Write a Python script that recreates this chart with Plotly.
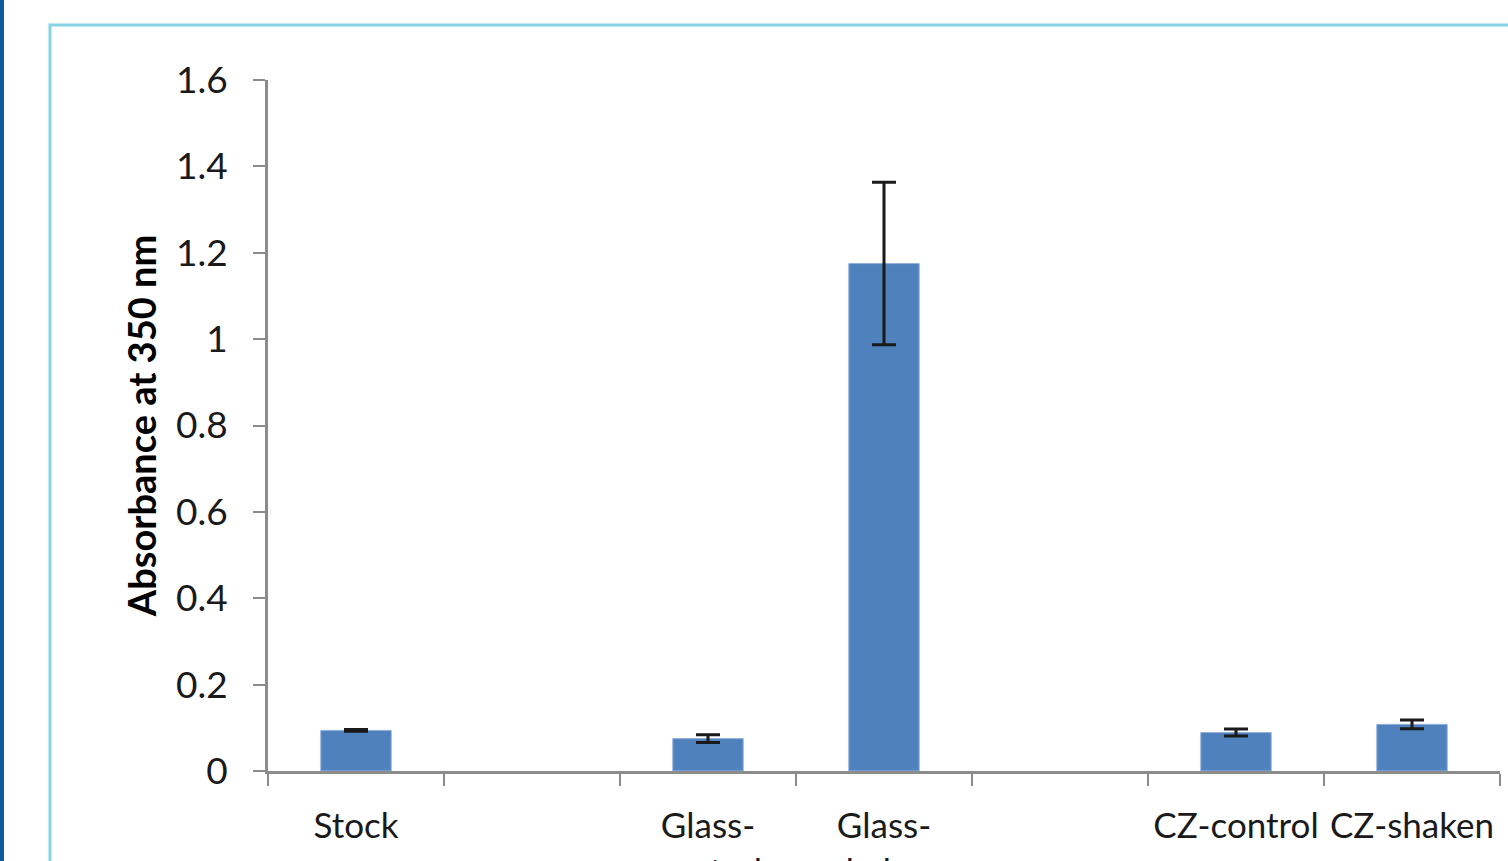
import plotly.graph_objects as go

# Absorbance at 350 nm for each sample (blank categories keep the gaps between groups)
categories = ["Stock", " ", "Glass-<br>control", "Glass-<br>shaken", "  ", "CZ-control", "CZ-shaken"]
absorbance = [0.094, None, 0.075, 1.175, None, 0.089, 0.108]
errors = [0.002, None, 0.009, 0.188, None, 0.008, 0.010]

y_ticks = [0, 0.2, 0.4, 0.6, 0.8, 1.0, 1.2, 1.4, 1.6]

FONT = "Lato"
AXIS_GREY = "#8c8c8c"

fig = go.Figure(
    go.Bar(
        x=categories,
        y=absorbance,
        width=0.4,
        marker=dict(color="#4F81BD", line=dict(color="#8FB0DA", width=1)),
        error_y=dict(type="data", array=errors, visible=True,
                     color="#1a1a1a", thickness=3, width=12),
    )
)

# page layout: plot area in pixels
W, H = 1508, 861
L, R, T, B = 268, 8, 80, 90
pw, ph = W - L - R, H - T - B


def px_x(px):
    return (px - L) / pw


def px_y(py):
    return (H - B - py) / ph


fig.update_layout(
    width=W,
    height=H,
    margin=dict(l=L, r=R, t=T, b=B, pad=0, autoexpand=False),
    paper_bgcolor="white",
    plot_bgcolor="white",
    showlegend=False,
    font=dict(family=FONT, color="#1a1a1a"),
    shapes=[
        # light blue frame around the chart
        dict(type="rect", xref="paper", yref="paper",
             x0=px_x(50), x1=px_x(1530), y0=px_y(900), y1=px_y(25),
             line=dict(color="#86D3E3", width=3), fillcolor="rgba(0,0,0,0)",
             layer="below"),
        # dark blue rule on the left edge
        dict(type="line", xref="paper", yref="paper",
             x0=px_x(2), x1=px_x(2), y0=px_y(900), y1=px_y(-10),
             line=dict(color="#0E5A9E", width=4)),
    ],
)

fig.update_xaxes(
    type="category",
    categoryorder="array",
    categoryarray=categories,
    range=[-0.5, 6.5],
    automargin=False,
    showline=True,
    linecolor=AXIS_GREY,
    linewidth=3,
    ticks="outside",
    tickson="boundaries",
    ticklen=12,
    tickwidth=2,
    tickcolor=AXIS_GREY,
    ticklabelstandoff=22,
    tickfont=dict(family=FONT, size=35, color="#1a1a1a"),
    showgrid=False,
    zeroline=False,
)

fig.update_yaxes(
    range=[0, 1.6],
    automargin=False,
    tickvals=y_ticks,
    ticktext=[f"{v:g}" for v in y_ticks],
    showline=True,
    linecolor=AXIS_GREY,
    linewidth=3,
    ticks="outside",
    ticklen=12,
    tickwidth=2,
    tickcolor=AXIS_GREY,
    ticklabelstandoff=18,
    tickfont=dict(family=FONT, size=37, color="#1a1a1a"),
    showgrid=False,
    zeroline=False,
    title=dict(text="<b>Absorbance at 350 nm</b>",
               font=dict(family=FONT, size=38, color="#000000"),
               standoff=8),
)

fig.write_html("out.html")
